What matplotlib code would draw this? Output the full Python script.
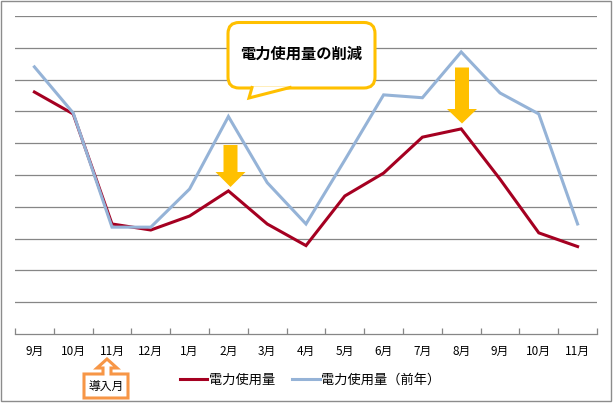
import matplotlib
matplotlib.use("Agg")
import matplotlib.pyplot as plt
from matplotlib.patches import Polygon, FancyBboxPatch, Rectangle
from matplotlib.lines import Line2D

plt.rcParams['font.family'] = ['Noto Sans CJK JP', 'DejaVu Sans']

months = ["9月", "10月", "11月", "12月", "1月", "2月", "3月", "4月", "5月", "6月",
          "7月", "8月", "9月", "10月", "11月"]
usage = [7.61, 6.92, 3.46, 3.27, 3.71, 4.50, 3.46, 2.78, 4.34, 5.06, 6.19, 6.45, 4.87, 3.18, 2.75]
usage_prev = [8.40, 6.95, 3.36, 3.36, 4.56, 6.84, 4.76, 3.46, 5.47, 7.52, 7.43, 8.87, 7.58, 6.92, 3.46]
series_names = ["電力使用量", "電力使用量（前年）"]
callout_text = "電力使用量の削減"
intro_text = "導入月"

W, H = 613, 403
fig = plt.figure(figsize=(W / 100, H / 100), dpi=100)
fig.patch.set_facecolor("white")


def px(x, y):
    return (x / W, 1 - y / H)


ax = fig.add_axes([15 / W, (H - 334) / H, 582 / W, 318 / H])
x = list(range(len(months)))
red = "#A50021"
blue = "#95B3D7"
ax.plot(x, usage, color=red, lw=2.2, solid_joinstyle="miter", zorder=2, label=series_names[0])
ax.plot(x, usage_prev, color=blue, lw=2.2, solid_joinstyle="miter", zorder=3, label=series_names[1])
ax.set_xlim(-0.5, len(months) - 0.5)
ax.set_ylim(0, 10)
ax.set_yticks(range(1, 11))
ax.yaxis.grid(True, color="#868686", lw=0.9)
ax.set_axisbelow(True)
ax.tick_params(axis="y", left=False, labelleft=False)
for s in ["left", "right", "top"]:
    ax.spines[s].set_visible(False)
ax.spines["bottom"].set_color("#868686")
ax.spines["bottom"].set_linewidth(0.9)
ax.set_xticks(x)
ax.set_xticklabels(months, fontsize=8.5)
ax.tick_params(axis="x", which="major", length=0, pad=8)
ax.set_xticks([i - 0.5 for i in range(len(months) + 1)], minor=True)
ax.tick_params(axis="x", which="minor", direction="in", length=4, color="#868686", width=0.9)

# legend
handles = [Line2D([], [], color=red, lw=2.2), Line2D([], [], color=blue, lw=2.2)]
fig.legend(handles, series_names, loc="center", bbox_to_anchor=(310 / W, 1 - 380 / H),
           ncol=2, frameon=False, fontsize=9.5, handlelength=2.1, handletextpad=0.1,
           columnspacing=1.3)

# outer border
fig.patches.append(Rectangle(px(1, 401), 610 / W, 400 / H, transform=fig.transFigure,
                             fill=False, edgecolor="#8c8c8c", lw=1.0))

# callout
yellow = "#FFC000"
fig.patches.append(FancyBboxPatch(px(228, 88), 147 / W, 65.5 / H,
                                  boxstyle="round,pad=0,rounding_size=0.018",
                                  transform=fig.transFigure, facecolor="white",
                                  edgecolor=yellow, lw=2.2, zorder=5,
                                  mutation_aspect=W / H))
fig.patches.append(Polygon([px(253, 86.5), px(249, 98), px(290, 86.5)], closed=True,
                           transform=fig.transFigure, facecolor="white", edgecolor="none", zorder=6))
fig.lines.append(Line2D([252 / W, 249 / W, 290 / W], [1 - 87.5 / H, 1 - 98 / H, 1 - 87.5 / H],
                        transform=fig.transFigure, color=yellow, lw=2.2, zorder=7,
                        solid_joinstyle="miter"))
fig.text(301 / W, 1 - 54 / H, callout_text, ha="center", va="center", fontsize=11,
         fontweight="bold", zorder=8)

# down arrows
def down_arrow(cx, top, head_y, tip, shaft_w, head_w):
    pts = [px(cx - shaft_w / 2, top), px(cx + shaft_w / 2, top), px(cx + shaft_w / 2, head_y),
           px(cx + head_w / 2, head_y), px(cx, tip), px(cx - head_w / 2, head_y),
           px(cx - shaft_w / 2, head_y)]
    fig.patches.append(Polygon(pts, closed=True, transform=fig.transFigure,
                               facecolor=yellow, edgecolor="none", zorder=9))

down_arrow(230.5, 145, 172, 187, 14, 30)
down_arrow(462, 67.5, 109, 123.5, 14, 30)

# intro-month callout
orange = "#F79646"
poly = [(84, 374), (103, 374), (103, 368), (97, 368), (107, 359), (117, 368), (111, 368),
        (111, 374), (128, 374), (128, 398), (84, 398)]
fig.patches.append(Polygon([px(a, b) for a, b in poly], closed=True, transform=fig.transFigure,
                           facecolor="white", edgecolor=orange, lw=2.2, zorder=5,
                           joinstyle="miter"))
fig.text(106 / W, 1 - 386 / H, intro_text, ha="center", va="center", fontsize=8.5, zorder=8)

fig.savefig("out.png", dpi=100)
